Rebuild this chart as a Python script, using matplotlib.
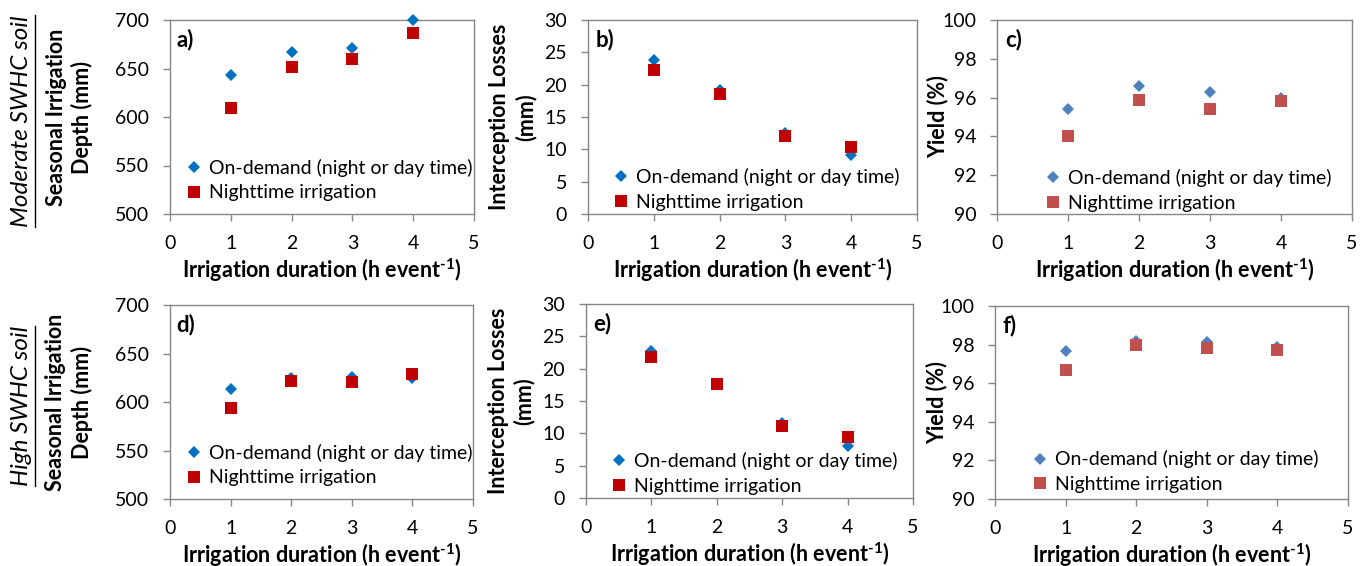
import matplotlib
matplotlib.use("Agg")
import matplotlib.pyplot as plt
from matplotlib.lines import Line2D

plt.rcParams['font.family'] = ['Lato', 'DejaVu Sans']
plt.rcParams['mathtext.fontset'] = 'custom'
plt.rcParams['mathtext.rm'] = 'Lato'
plt.rcParams['mathtext.bf'] = 'Lato:bold'
plt.rcParams['mathtext.it'] = 'Lato:italic'

# ---- data ----
durations = [1, 2, 3, 4]

# Moderate SWHC soil
depth_mod_ondemand = [643, 667, 671, 700]
depth_mod_night = [609, 652, 660, 687]
interc_mod_ondemand = [23.8, 19.1, 12.5, 9.2]
interc_mod_night = [22.3, 18.6, 12.0, 10.4]
yield_mod_ondemand = [95.4, 96.6, 96.3, 96.0]
yield_mod_night = [94.0, 95.9, 95.4, 95.8]

# High SWHC soil
depth_high_ondemand = [613.5, 625, 626, 624.5]
depth_high_night = [593.5, 621.5, 621, 629]
interc_high_ondemand = [22.8, 17.7, 11.6, 8.1]
interc_high_night = [21.8, 17.6, 11.2, 9.4]
yield_high_ondemand = [97.65, 98.2, 98.15, 97.85]
yield_high_night = [96.7, 98.0, 97.8, 97.7]

series_labels = ["On-demand (night or day time)", "Nighttime irrigation"]
panel_letters = ["a)", "b)", "c)", "d)", "e)", "f)"]
row_labels = ["Moderate SWHC soil", "High SWHC soil"]
ylabels = ["Seasonal Irrigation\nDepth (mm)", "Interception Losses\n(mm)", "Yield (%)"]
xlabel = "Irrigation duration (h event$^{\\mathbf{\u2010}\\mathbf{1}}$)"
ylims = [(500, 700), (0, 30), (90, 100)]
yticks = [[500, 550, 600, 650, 700], [0, 5, 10, 15, 20, 25, 30], [90, 92, 94, 96, 98, 100]]
xticks = [0, 1, 2, 3, 4, 5]

data = [
    [(depth_mod_ondemand, depth_mod_night), (interc_mod_ondemand, interc_mod_night), (yield_mod_ondemand, yield_mod_night)],
    [(depth_high_ondemand, depth_high_night), (interc_high_ondemand, interc_high_night), (yield_high_ondemand, yield_high_night)],
]

W, H = 1367, 566
fig = plt.figure(figsize=(W / 100, H / 100), dpi=100)

# axes boxes in pixels: left, top, right, bottom
boxes = [
    [(170, 20, 474, 214), (588, 20, 917, 214), (997, 20, 1352, 214)],
    [(170, 305, 473, 499), (586, 304, 913, 498), (995, 306, 1348, 499)],
]
colors = [("#0070C0", "#C00000"), ("#0070C0", "#C00000"), ("#4F81BD", "#C0504D")]
ylabel_x = [[-0.33, -0.228, -0.166], [-0.333, -0.229, -0.164]]
legend_pos = [[(0.035, 0.035), (0.06, -0.015), (0.12, -0.02)],
              [(0.035, 0.035), (0.06, -0.015), (0.09, 0.0)]]

spine_col = "#868686"
fs_tick = 14
fs_label = 15.5

for r in range(2):
    for c in range(3):
        l, t, rr, b = boxes[r][c]
        ax = fig.add_axes([l / W, 1 - b / H, (rr - l) / W, (b - t) / H])
        od, nt = data[r][c]
        c1, c2 = colors[c]
        ax.plot(durations, od, linestyle='none', marker='D', markersize=6.5,
                color=c1, markeredgewidth=0, label=series_labels[0], clip_on=False, zorder=3)
        ax.plot(durations, nt, linestyle='none', marker='s', markersize=8.5,
                color=c2, markeredgewidth=0, label=series_labels[1], clip_on=False, zorder=3)
        ax.set_xlim(0, 5)
        ax.set_ylim(*ylims[c])
        ax.set_xticks(xticks)
        ax.set_yticks(yticks[c])
        for sp in ax.spines.values():
            sp.set_color(spine_col)
            sp.set_linewidth(1.0)
        ax.tick_params(axis='both', direction='out', length=5, width=1.0,
                       color=spine_col, labelsize=fs_tick, labelcolor='black')
        ax.tick_params(axis='y', pad=10)
        ax.tick_params(axis='x', pad=10)
        ax.set_xlabel(xlabel, fontsize=fs_label, fontweight='bold', labelpad=3)
        ax.set_ylabel(ylabels[c], fontsize=fs_label, fontweight='bold', linespacing=1.25)
        ax.yaxis.set_label_coords(ylabel_x[r][c], 0.5)
        ax.yaxis.label.set_verticalalignment('center')
        ax.text(0.022, 0.955, panel_letters[r * 3 + c], transform=ax.transAxes,
                fontsize=16, fontweight='bold', va='top', ha='left')
        ax.legend(loc='lower left', bbox_to_anchor=legend_pos[r][c], frameon=False,
                  fontsize=fs_tick, handlelength=0.8, handletextpad=0.35,
                  labelspacing=0.4, borderpad=0.3, borderaxespad=0)

# row labels with underline
row_centers = [121, 406]
texts = []
for i, lab in enumerate(row_labels):
    tx = fig.text(22 / W, 1 - row_centers[i] / H, lab, rotation=90, fontsize=17.5,
                  fontstyle='italic', ha='center', va='center')
    texts.append(tx)

fig.canvas.draw()
renderer = fig.canvas.get_renderer()
for tx in texts:
    bb = tx.get_window_extent(renderer)
    xl = (bb.x1 + 2) / W
    fig.add_artist(Line2D([xl, xl], [bb.y0 / H, bb.y1 / H], color='black', linewidth=1.0,
                          transform=fig.transFigure))

fig.savefig("out.png", dpi=100)
